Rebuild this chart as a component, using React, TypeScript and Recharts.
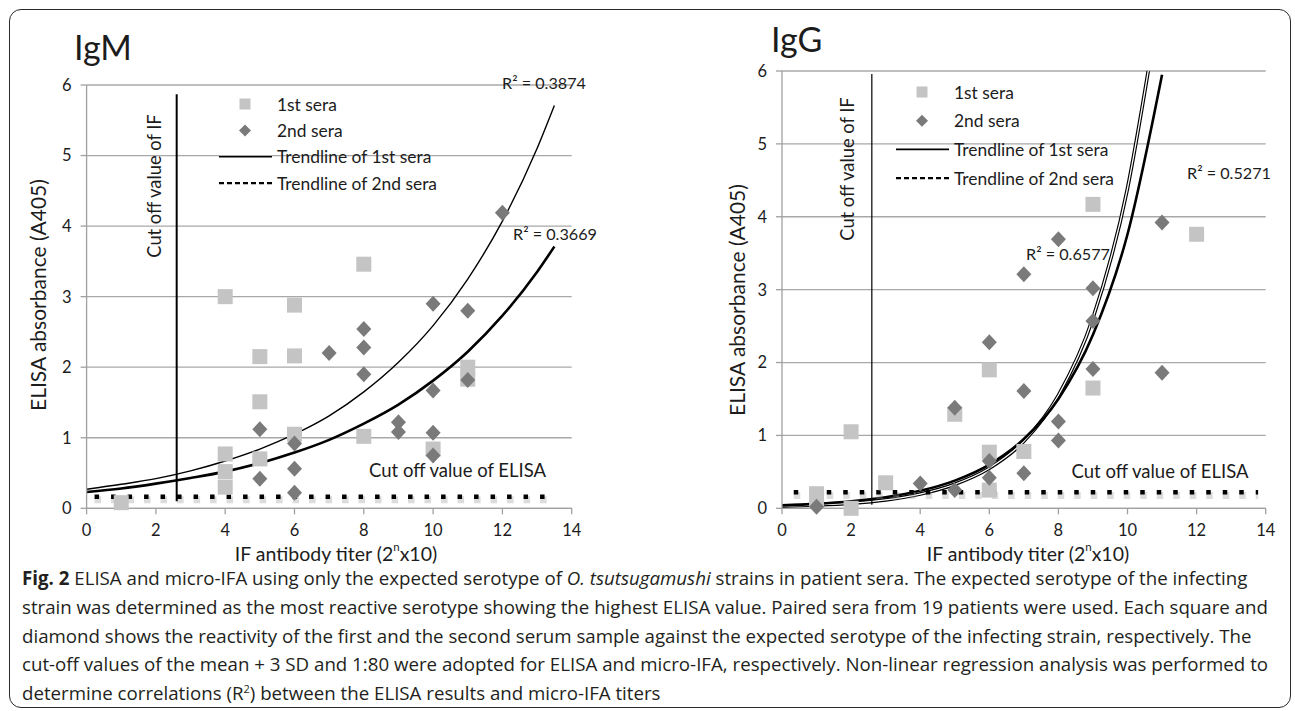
import React from 'react';
import {
  ComposedChart,
  Scatter,
  Line,
  XAxis,
  YAxis,
  CartesianGrid,
  ReferenceLine,
  Legend,
  Customized,
} from 'recharts';

type Pt = { x: number; y: number };

const FONT = 'Lato, "Open Sans", sans-serif';
const TEXT = '#1c1c1c';

const xTicks = [0, 2, 4, 6, 8, 10, 12, 14];
const yTicks = [0, 1, 2, 3, 4, 5, 6];
const legendLabels = ['1st sera', '2nd sera', 'Trendline of 1st sera', 'Trendline of 2nd sera'];

// ---------- IgM ----------
const igmFirstSera: Pt[] = [
  { x: 1, y: 0.08 }, { x: 4, y: 3.0 }, { x: 4, y: 0.77 }, { x: 4, y: 0.52 }, { x: 4, y: 0.3 },
  { x: 5, y: 2.15 }, { x: 5, y: 1.51 }, { x: 5, y: 0.7 }, { x: 6, y: 2.88 }, { x: 6, y: 2.16 },
  { x: 6, y: 1.05 }, { x: 8, y: 3.46 }, { x: 8, y: 1.02 }, { x: 10, y: 0.84 }, { x: 11, y: 2.0 },
  { x: 11, y: 1.83 },
];
const igmSecondSera: Pt[] = [
  { x: 5, y: 1.12 }, { x: 5, y: 0.42 }, { x: 6, y: 0.92 }, { x: 6, y: 0.56 }, { x: 6, y: 0.22 },
  { x: 7, y: 2.2 }, { x: 8, y: 2.54 }, { x: 8, y: 2.28 }, { x: 8, y: 1.9 }, { x: 9, y: 1.22 },
  { x: 9, y: 1.08 }, { x: 10, y: 2.9 }, { x: 10, y: 1.67 }, { x: 10, y: 1.07 }, { x: 10, y: 0.75 },
  { x: 11, y: 2.8 }, { x: 11, y: 1.82 }, { x: 12, y: 4.19 },
];
const igmTrendFirst: Pt[] = [
  { x: 0, y: 0.27 }, { x: 1, y: 0.34 }, { x: 2, y: 0.42 }, { x: 3, y: 0.53 }, { x: 4, y: 0.67 },
  { x: 5, y: 0.84 }, { x: 6, y: 1.05 }, { x: 7, y: 1.31 }, { x: 8, y: 1.65 }, { x: 9, y: 2.07 },
  { x: 10, y: 2.59 }, { x: 11, y: 3.25 }, { x: 12, y: 4.07 }, { x: 13, y: 5.1 }, { x: 13.5, y: 5.71 },
];
const igmTrendSecond: Pt[] = [
  { x: 0, y: 0.23 }, { x: 1, y: 0.28 }, { x: 2, y: 0.35 }, { x: 3, y: 0.43 }, { x: 4, y: 0.52 },
  { x: 5, y: 0.64 }, { x: 6, y: 0.79 }, { x: 7, y: 0.97 }, { x: 8, y: 1.2 }, { x: 9, y: 1.47 },
  { x: 10, y: 1.81 }, { x: 11, y: 2.22 }, { x: 12, y: 2.73 }, { x: 13, y: 3.35 }, { x: 13.5, y: 3.71 },
];
const igmElisaCutoff = [{ x: 0.23, y: 0.165 }, { x: 13.5, y: 0.165 }];
const igmIfCutoff = [{ x: 2.6, y: 0.1 }, { x: 2.6, y: 5.87 }];
const igmR2 = ['R² = 0.3874', 'R² = 0.3669'];

// ---------- IgG ----------
const iggFirstSera: Pt[] = [
  { x: 1, y: 0.2 }, { x: 1, y: 0.1 }, { x: 2, y: 1.05 }, { x: 2, y: 0.0 }, { x: 3, y: 0.35 },
  { x: 5, y: 1.29 }, { x: 6, y: 1.9 }, { x: 6, y: 0.77 }, { x: 6, y: 0.25 }, { x: 7, y: 0.78 },
  { x: 9, y: 4.17 }, { x: 9, y: 1.65 }, { x: 12, y: 3.76 },
];
const iggSecondSera: Pt[] = [
  { x: 1, y: 0.02 }, { x: 4, y: 0.34 }, { x: 5, y: 1.38 }, { x: 5, y: 0.25 }, { x: 6, y: 2.28 },
  { x: 6, y: 0.65 }, { x: 6, y: 0.42 }, { x: 7, y: 3.21 }, { x: 7, y: 1.61 }, { x: 7, y: 0.48 },
  { x: 8, y: 3.69 }, { x: 8, y: 1.19 }, { x: 8, y: 0.93 }, { x: 9, y: 3.02 }, { x: 9, y: 2.57 },
  { x: 9, y: 1.91 }, { x: 11, y: 3.92 }, { x: 11, y: 1.86 },
];
const iggTrendFirst: Pt[] = [
  { x: 0, y: 0.03 }, { x: 1, y: 0.045 }, { x: 2, y: 0.07 }, { x: 3, y: 0.115 }, { x: 4, y: 0.195 },
  { x: 5, y: 0.33 }, { x: 6, y: 0.55 }, { x: 7, y: 0.92 }, { x: 8, y: 1.55 }, { x: 9, y: 2.61 },
  { x: 10, y: 4.39 }, { x: 10.6, y: 6.0 },
];
const iggTrendSecond: Pt[] = [
  { x: 0, y: 0.04 }, { x: 1, y: 0.061 }, { x: 2, y: 0.096 }, { x: 3, y: 0.152 }, { x: 4, y: 0.24 },
  { x: 5, y: 0.38 }, { x: 6, y: 0.6 }, { x: 7, y: 0.95 }, { x: 8, y: 1.5 }, { x: 9, y: 2.38 },
  { x: 10, y: 3.76 }, { x: 11, y: 5.95 },
];
const iggElisaCutoff = [{ x: 0.34, y: 0.22 }, { x: 13.78, y: 0.22 }];
const iggIfCutoff = [{ x: 2.6, y: 0.05 }, { x: 2.6, y: 5.96 }];
const iggR2 = ['R² = 0.6577', 'R² = 0.5271'];

const captionLines = [
  'ELISA and micro-IFA using only the expected serotype of ',
  'strain was determined as the most reactive serotype showing the highest ELISA value. Paired sera from 19 patients were used. Each square and',
  'diamond shows the reactivity of the first and the second serum sample against the expected serotype of the infecting strain, respectively. The',
  'cut-off values of the mean + 3 SD and 1:80 were adopted for ELISA and micro-IFA, respectively. Non-linear regression analysis was performed to',
];

const SquareShape = (props: any) => {
  const { cx, cy } = props;
  if (cx == null || cy == null) return <g />;
  return <rect x={cx - 7.5} y={cy - 7.5} width={15} height={15} fill="#c4c4c4" />;
};
const DiamondShape = (props: any) => {
  const { cx, cy } = props;
  if (cx == null || cy == null) return <g />;
  return (
    <polygon
      points={`${cx},${cy - 8} ${cx + 7.5},${cy} ${cx},${cy + 8} ${cx - 7.5},${cy}`}
      fill="#7a7a7a"
    />
  );
};

type Layout = {
  width: number;
  height: number;
  margin: { top: number; right: number; bottom: number; left: number };
  title: string;
  titlePos: [number, number];
  yLabelPos: [number, number];
  xLabelPos: [number, number];
  ifLabelPos: [number, number];
  elisaLabelPos: [number, number];
  r2Pos: [[number, number], [number, number]];
  legendPos: [number, number];
  legendGap: number;
  ifWidth: number;
  doubleFirst: boolean;
};

function makeLegend(gap: number) {
  return () => {
    const rows = [14, 14 + gap, 14 + 2 * gap, 14 + 3 * gap];
    return (
      <svg width={260} height={rows[3] + 14} style={{ display: 'block', overflow: 'visible' }}>
        <rect x={24.5} y={rows[0] - 5.5} width={11} height={11} fill="#c4c4c4" />
        <polygon
          points={`30,${rows[1] - 6} 36,${rows[1]} 30,${rows[1] + 6} 24,${rows[1]}`}
          fill="#7a7a7a"
        />
        <line x1={4} x2={57} y1={rows[2]} y2={rows[2]} stroke="#000" strokeWidth={1.6} />
        <line x1={4} x2={57} y1={rows[3]} y2={rows[3]} stroke="#000" strokeWidth={2.2} strokeDasharray="5 3" />
        {legendLabels.map((t, i) => (
          <text key={t} x={62} y={rows[i]} dominantBaseline="central" fontSize={17.4} fontFamily={FONT} fill={TEXT}>
            {t}
          </text>
        ))}
      </svg>
    );
  };
}

function Panel(props: {
  layout: Layout;
  first: Pt[];
  second: Pt[];
  trendFirst: Pt[];
  trendSecond: Pt[];
  elisaCut: Pt[];
  ifCut: Pt[];
  r2: string[];
}) {
  const { layout: L, first, second, trendFirst, trendSecond, elisaCut, ifCut, r2 } = props;
  const overlay = () => (
    <g fontFamily={FONT} fill={TEXT}>
      <text x={L.titlePos[0]} y={L.titlePos[1]} fontSize={34} dominantBaseline="central">
        {L.title}
      </text>
      <text
        x={L.yLabelPos[0]}
        y={L.yLabelPos[1]}
        fontSize={21}
        textAnchor="middle"
        dominantBaseline="central"
        transform={`rotate(-90 ${L.yLabelPos[0]} ${L.yLabelPos[1]})`}
      >
        ELISA absorbance (A405)
      </text>
      <text x={L.xLabelPos[0]} y={L.xLabelPos[1]} fontSize={19.5} textAnchor="middle" dominantBaseline="central">
        IF antibody titer (2
        <tspan fontSize={11.5} dy={-7}>n</tspan>
        <tspan dy={7}>x10)</tspan>
      </text>
      <text
        x={L.ifLabelPos[0]}
        y={L.ifLabelPos[1]}
        fontSize={18.3}
        textAnchor="middle"
        dominantBaseline="central"
        transform={`rotate(-90 ${L.ifLabelPos[0]} ${L.ifLabelPos[1]})`}
      >
        Cut off value of IF
      </text>
      <text x={L.elisaLabelPos[0]} y={L.elisaLabelPos[1]} fontSize={18.5} dominantBaseline="central">
        Cut off value of ELISA
      </text>
      <text x={L.r2Pos[0][0]} y={L.r2Pos[0][1]} fontSize={16.2} dominantBaseline="central">
        {r2[0]}
      </text>
      <text x={L.r2Pos[1][0]} y={L.r2Pos[1][1]} fontSize={16.2} dominantBaseline="central">
        {r2[1]}
      </text>
    </g>
  );
  return (
    <ComposedChart width={L.width} height={L.height} margin={L.margin}>
      <CartesianGrid horizontal vertical={false} stroke="#a8a8a8" strokeWidth={1.3} />
      <XAxis
        type="number"
        dataKey="x"
        domain={[0, 14]}
        ticks={xTicks}
        interval={0}
        stroke="#a0a0a0"
        strokeWidth={1.3}
        tickSize={6}
        tickMargin={10}
        tick={{ fill: TEXT, fontSize: 16.5, fontFamily: FONT }}
        height={30}
      />
      <YAxis
        type="number"
        dataKey="y"
        domain={[0, 6]}
        ticks={yTicks}
        interval={0}
        stroke="#a0a0a0"
        strokeWidth={1.3}
        tickSize={6}
        tickMargin={9}
        tick={{ fill: TEXT, fontSize: 16.5, fontFamily: FONT }}
        width={60}
      />
      <Scatter data={first} shape={SquareShape} isAnimationActive={false} />
      <Scatter data={second} shape={DiamondShape} isAnimationActive={false} />
      {L.doubleFirst ? (
        <Line data={trendFirst} dataKey="y" type="monotone" stroke="#000" strokeWidth={3.6} dot={false} activeDot={false} isAnimationActive={false} />
      ) : (
        <Line data={trendFirst} dataKey="y" type="monotone" stroke="#000" strokeWidth={1.4} dot={false} activeDot={false} isAnimationActive={false} />
      )}
      {L.doubleFirst ? (
        <Line data={trendFirst} dataKey="y" type="monotone" stroke="#fff" strokeWidth={1.3} dot={false} activeDot={false} isAnimationActive={false} />
      ) : null}
      <Line data={trendSecond} dataKey="y" type="monotone" stroke="#000" strokeWidth={2.6} dot={false} activeDot={false} isAnimationActive={false} />
      <ReferenceLine
        segment={[{ x: elisaCut[0].x, y: elisaCut[0].y - 0.045 }, { x: elisaCut[1].x, y: elisaCut[1].y - 0.045 }]}
        stroke="#9a9a9a"
        strokeOpacity={0.35}
        strokeWidth={7}
        strokeDasharray="6.5 10"
      />
      <ReferenceLine segment={elisaCut} stroke="#000" strokeWidth={4.5} strokeDasharray="4.5 12" />
      <ReferenceLine segment={ifCut} stroke="#000" strokeWidth={L.ifWidth} />
      <Customized component={overlay} />
      <Legend
        layout="vertical"
        align="center"
        verticalAlign="middle"
        content={makeLegend(L.legendGap)}
        wrapperStyle={{ left: L.legendPos[0], top: L.legendPos[1], width: 260, height: 110 }}
      />
    </ComposedChart>
  );
}

const igmLayout: Layout = {
  width: 640,
  height: 570,
  margin: { top: 85, right: 68.3, bottom: 31.7, left: 26.6 },
  title: 'IgM',
  titlePos: [74, 46],
  yLabelPos: [37, 295],
  xLabelPos: [336, 553],
  ifLabelPos: [154, 186],
  elisaLabelPos: [369, 470],
  r2Pos: [[502, 82], [513, 233]],
  legendPos: [215, 90],
  legendGap: 26.4,
  ifWidth: 2,
  doubleFirst: false,
};

const iggLayout: Layout = {
  width: 645,
  height: 570,
  margin: { top: 71, right: 29.3, bottom: 31.7, left: 72 },
  title: 'IgG',
  titlePos: [121, 38],
  yLabelPos: [86, 300],
  xLabelPos: [378, 553],
  ifLabelPos: [197, 169],
  elisaLabelPos: [421.5, 471],
  r2Pos: [[376, 253], [537, 172]],
  legendPos: [242, 78],
  legendGap: 28.7,
  ifWidth: 1.2,
  doubleFirst: true,
};

export default function App() {
  return (
    <div
      style={{
        position: 'absolute',
        left: 0,
        top: 0,
        width: 1295,
        height: 711,
        background: '#fff',
        overflow: 'hidden',
      }}
    >
      <div
        style={{
          position: 'absolute',
          left: 9,
          top: 9,
          width: 1282,
          height: 699,
          boxSizing: 'border-box',
          border: '1.5px solid #2a2a2a',
          borderRadius: 12,
        }}
      />
      <div style={{ position: 'absolute', left: 0, top: 0 }}>
        <Panel
          layout={igmLayout}
          first={igmFirstSera}
          second={igmSecondSera}
          trendFirst={igmTrendFirst}
          trendSecond={igmTrendSecond}
          elisaCut={igmElisaCutoff}
          ifCut={igmIfCutoff}
          r2={igmR2}
        />
      </div>
      <div style={{ position: 'absolute', left: 650, top: 0 }}>
        <Panel
          layout={iggLayout}
          first={iggFirstSera}
          second={iggSecondSera}
          trendFirst={iggTrendFirst}
          trendSecond={iggTrendSecond}
          elisaCut={iggElisaCutoff}
          ifCut={iggIfCutoff}
          r2={iggR2}
        />
      </div>
      <div
        style={{
          position: 'absolute',
          left: 22,
          top: 564,
          fontFamily: '"Open Sans", sans-serif',
          fontSize: 18.7,
          lineHeight: '28.8px',
          color: '#231f20',
          whiteSpace: 'nowrap',
        }}
      >
        <div>
          <b>Fig. 2</b> {captionLines[0]}
          <i>O. tsutsugamushi</i> strains in patient sera. The expected serotype of the infecting
        </div>
        <div>{captionLines[1]}</div>
        <div>{captionLines[2]}</div>
        <div>{captionLines[3]}</div>
        <div>
          determine correlations (R<sup style={{ fontSize: 11, lineHeight: 0 }}>2</sup>) between the ELISA results and micro-IFA titers
        </div>
      </div>
    </div>
  );
}
